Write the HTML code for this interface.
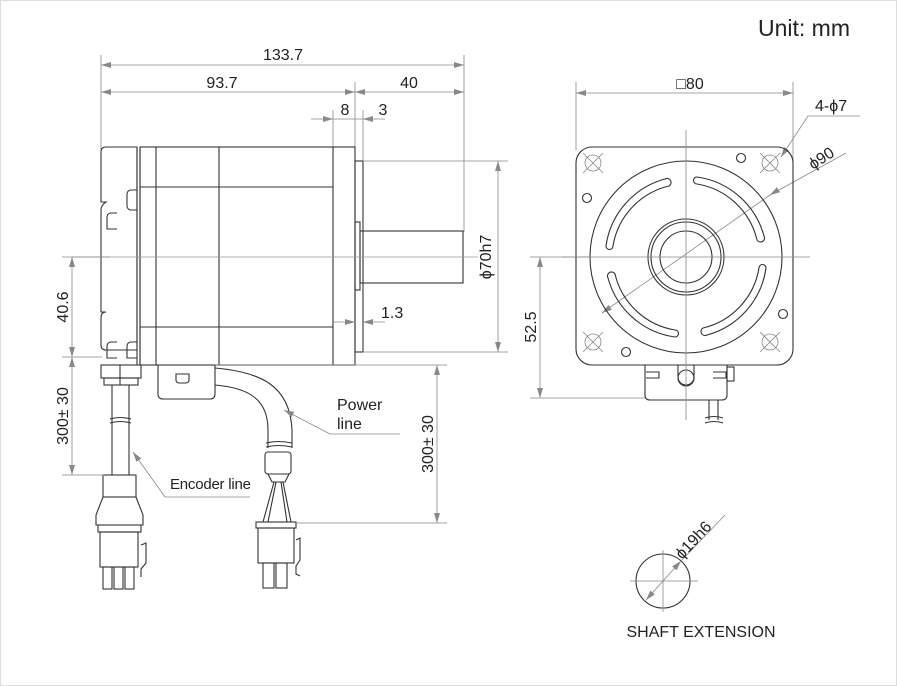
<!DOCTYPE html>
<html><head><meta charset="utf-8"><style>
html,body{margin:0;padding:0;background:#fff}
svg{display:block}
text{font-family:"Liberation Sans",sans-serif;fill:#222}
.o{fill:none;stroke:#333;stroke-width:1.1}
.d{fill:none;stroke:#888;stroke-width:0.8}
.a{fill:#888;stroke:none}
</style></head><body>
<svg width="897" height="686" viewBox="0 0 897 686" xmlns="http://www.w3.org/2000/svg">
<defs>
<marker id="ar" viewBox="0 0 10 6" refX="10" refY="3" markerWidth="10" markerHeight="6" orient="auto-start-reverse" markerUnits="userSpaceOnUse">
<path d="M0,0 L10,3 L0,6 z" fill="#888"/></marker>
</defs>
<rect x="0.5" y="0.5" width="896" height="685" fill="none" stroke="#ddd"/>
<text x="758" y="36" font-size="23">Unit: mm</text>

<!-- top dims -->
<g class="d">
<line x1="101" y1="55" x2="101" y2="150"/>
<line x1="464" y1="55" x2="464" y2="232"/>
<line x1="355" y1="82" x2="355" y2="150"/>
<line x1="333" y1="110" x2="333" y2="150"/>
<line x1="363" y1="110" x2="363" y2="162"/>
<line x1="101" y1="65" x2="464" y2="65" marker-start="url(#ar)" marker-end="url(#ar)"/>
<line x1="101" y1="92" x2="355" y2="92" marker-start="url(#ar)" marker-end="url(#ar)"/>
<line x1="355" y1="92" x2="464" y2="92" marker-start="url(#ar)" marker-end="url(#ar)"/>
<line x1="311" y1="119" x2="333" y2="119" marker-end="url(#ar)"/>
<line x1="333" y1="119" x2="363" y2="119"/>
<line x1="385" y1="119" x2="363" y2="119" marker-end="url(#ar)"/>
</g>
<text x="283" y="60" font-size="16" text-anchor="middle">133.7</text>
<text x="222" y="88" font-size="16" text-anchor="middle">93.7</text>
<text x="409" y="88" font-size="16" text-anchor="middle">40</text>
<text x="345" y="115" font-size="16" text-anchor="middle">8</text>
<text x="383" y="115" font-size="16" text-anchor="middle">3</text>

<!-- side view motor -->
<g class="o">
<path d="M106,147 H137 V350 H106 Q101,350 101,345 V318 Q101,312 106,312 H101 V210 Q101,205 106,202 H101 V152 Q101,147 106,147 Z"/>
<line x1="137" y1="147" x2="137" y2="365"/>
<line x1="140" y1="147" x2="140" y2="365"/>
<rect x="140" y="147" width="215" height="218"/>
<line x1="156" y1="147" x2="156" y2="365"/>
<line x1="219" y1="147" x2="219" y2="365"/>
<line x1="333" y1="147" x2="333" y2="365"/>
<line x1="140" y1="187" x2="333" y2="187"/>
<line x1="140" y1="327" x2="333" y2="327"/>
<rect x="355" y="161" width="8" height="191"/>
<rect x="355" y="222" width="5" height="68"/>
<rect x="360" y="231" width="103" height="52"/>
<path d="M137,190 h-6 a4,4 0 0 0 -4,4 v12 a4,4 0 0 0 4,4 h6"/>
<path d="M117,213 h-6 a4,4 0 0 0 -4,4 v12 h10"/>
<path d="M137,342 h-6 a4,4 0 0 0 -4,4 v12 h10"/>
<path d="M117,342 h-6 a4,4 0 0 0 -4,4 v12 h10"/>
<!-- power box -->
<path d="M158,365 V394 Q158,399 163,399 H210 Q215,399 215,394 V365"/>
<path d="M176,374 h13 v6 a3,3 0 0 1 -3,3 h-7 a3,3 0 0 1 -3,-3 z"/>
<!-- power cable -->
<path d="M215,368 C260,372 290,385 292,430 V448"/>
<path d="M215,385 C250,388 268,400 268,430 V448"/>
<path d="M266,443 q12,-3 26,0"/>
<path d="M266,447 q12,-3 26,0"/>
<rect x="265" y="452" width="26" height="22" rx="3"/>
<path d="M268,474 L272,482 H285 L289,474"/>
<path d="M274,482 L263,522 M283,482 L291,522 M276,482 L268,522 M281,482 L287,522"/>
<rect x="256" y="522" width="40" height="6"/>
<rect x="258" y="528" width="36" height="35"/>
<rect x="263" y="563" width="11" height="25"/><rect x="276" y="563" width="11" height="25"/>
<path d="M296,540 l4,-2 v22 l-4,6 v8 l4,2"/>
<!-- encoder cable -->
<rect x="101" y="365" width="40" height="13"/>
<rect x="104" y="378" width="34" height="7"/>
<line x1="120" y1="365" x2="120" y2="385"/>
<line x1="112" y1="385" x2="112" y2="475"/>
<line x1="129" y1="385" x2="129" y2="475"/>
<path d="M110,419 q10,-3 21,0 M110,423 q10,-3 21,0"/>
<rect x="103" y="475" width="33" height="22"/>
<path d="M103,497 L96,515 V525 H143 V515 L136,497"/>
<rect x="98" y="525" width="43" height="7"/>
<rect x="100" y="532" width="38" height="35"/>
<rect x="103" y="567" width="9" height="22"/><rect x="114" y="567" width="9" height="22"/><rect x="125" y="567" width="9" height="22"/>
<path d="M141,545 l5,-2 v20 l-5,6 v8"/>
</g>
<!-- centerline -->
<line x1="72" y1="257" x2="478" y2="257" stroke="#999" stroke-width="0.7"/>
<g class="d">
<line x1="62" y1="257" x2="110" y2="257"/>
<line x1="62" y1="357" x2="102" y2="357"/>
<line x1="62" y1="475" x2="104" y2="475"/>
<line x1="72" y1="257" x2="72" y2="357" marker-start="url(#ar)" marker-end="url(#ar)"/>
<line x1="72" y1="357" x2="72" y2="475" marker-start="url(#ar)" marker-end="url(#ar)"/>
<line x1="363" y1="161" x2="508" y2="161"/>
<line x1="363" y1="352" x2="508" y2="352"/>
<line x1="498" y1="161" x2="498" y2="352" marker-start="url(#ar)" marker-end="url(#ar)"/>
<line x1="333" y1="322" x2="355" y2="322" marker-end="url(#ar)"/>
<line x1="385" y1="322" x2="363" y2="322" marker-end="url(#ar)"/>
<line x1="215" y1="365" x2="447" y2="365"/>
<line x1="296" y1="523" x2="447" y2="523"/>
<line x1="437" y1="365" x2="437" y2="523" marker-start="url(#ar)" marker-end="url(#ar)"/>
<path d="M400,434 H330 L284,410" marker-end="url(#ar)"/>
<path d="M250,497 H165 L133,452" marker-end="url(#ar)"/>
</g>
<text transform="translate(491,257) rotate(-90)" font-size="16" text-anchor="middle">ϕ70h7</text>
<text x="381" y="318" font-size="16">1.3</text>
<text transform="translate(68,307) rotate(-90)" font-size="16" text-anchor="middle">40.6</text>
<text transform="translate(68,416) rotate(-90)" font-size="16" text-anchor="middle">300± 30</text>
<text transform="translate(433,444) rotate(-90)" font-size="16" text-anchor="middle">300± 30</text>
<text x="337" y="410" font-size="16">Power</text>
<text x="337" y="429" font-size="16">line</text>
<text x="170" y="489" font-size="15" textLength="81">Encoder line</text>

<!-- front view -->
<g class="d">
<line x1="576" y1="82" x2="576" y2="150"/>
<line x1="793" y1="82" x2="793" y2="200"/>
<line x1="576" y1="93" x2="793" y2="93" marker-start="url(#ar)" marker-end="url(#ar)"/>
<path d="M860,116 H808 L781,157" marker-end="url(#ar)"/>
<line x1="846" y1="153" x2="770" y2="195"/>
<line x1="770" y1="195" x2="602" y2="313" marker-end="url(#ar)"/>
<line x1="770" y1="195" x2="778" y2="190" marker-start="url(#ar)"/>
<line x1="530" y1="257" x2="590" y2="257"/>
<line x1="530" y1="398" x2="645" y2="398"/>
<line x1="540" y1="257" x2="540" y2="398" marker-start="url(#ar)" marker-end="url(#ar)"/>
</g>
<g class="o">
<rect x="576" y="147" width="217" height="218" rx="16"/>
<circle cx="686" cy="257" r="96"/>
<circle cx="686" cy="257" r="38"/>
<circle cx="686" cy="257" r="35"/>
<circle cx="686" cy="257" r="26"/>
<g id="slot"><path d="M697,177 A81,81 0 0 1 764,236 A4,4 0 0 1 757,240 A74,74 0 0 0 697,184 A3.5,3.5 0 0 1 697,177 Z"/></g>
<use href="#slot" transform="rotate(90 686 257)"/>
<use href="#slot" transform="rotate(180 686 257)"/>
<use href="#slot" transform="rotate(270 686 257)"/>
<circle cx="741" cy="158" r="4.5"/><circle cx="587" cy="198" r="4.5"/>
<circle cx="783" cy="314" r="4.5"/><circle cx="626" cy="352" r="4.5"/>
<path d="M645,365 V395 Q645,400 650,400 H722 Q727,400 727,395 V365"/>
<circle cx="686" cy="378" r="8"/>
<path d="M678,365 v12 a8,8 0 0 0 16,0 v-12"/>
<path d="M646,372 h13 v6 h-13 M713,372 h13 v6 h-13"/>
<rect x="727" y="367" width="7" height="14"/>
<path d="M709,400 V420 M718,400 V420 M705,418 q9,-3 18,0 M705,423 q9,-3 18,0"/>
</g>
<g stroke="#888" stroke-width="0.8" fill="none">
<circle cx="593" cy="163" r="8"/><circle cx="770" cy="163" r="8"/>
<circle cx="593" cy="342" r="8"/><circle cx="770" cy="342" r="8"/>
<path d="M583,153 l20,20 M603,153 l-20,20 M760,153 l20,20 M780,153 l-20,20 M583,332 l20,20 M603,332 l-20,20 M760,332 l20,20 M780,332 l-20,20"/>
<line x1="686" y1="130" x2="686" y2="420"/>
<line x1="562" y1="257" x2="810" y2="257"/>
</g>
<text x="690" y="89" font-size="16" text-anchor="middle">□80</text>
<text x="815" y="111" font-size="16">4-ϕ7</text>
<text transform="translate(813,170) rotate(-33)" font-size="16">ϕ90</text>
<text transform="translate(536,327) rotate(-90)" font-size="16" text-anchor="middle">52.5</text>

<!-- shaft extension -->
<circle cx="663" cy="581" r="27" class="o"/>
<g class="d">
<line x1="663" y1="550" x2="663" y2="612"/>
<line x1="630" y1="581" x2="698" y2="581"/>
<line x1="725" y1="515" x2="681" y2="561"/>
<line x1="663" y1="581" x2="681" y2="561" marker-end="url(#ar)"/>
<line x1="663" y1="581" x2="646" y2="600" marker-end="url(#ar)"/>
</g>
<text transform="translate(682,560) rotate(-47)" font-size="16">ϕ19h6</text>
<text x="701" y="637" font-size="16" text-anchor="middle">SHAFT EXTENSION</text>
</svg>
</body></html>
